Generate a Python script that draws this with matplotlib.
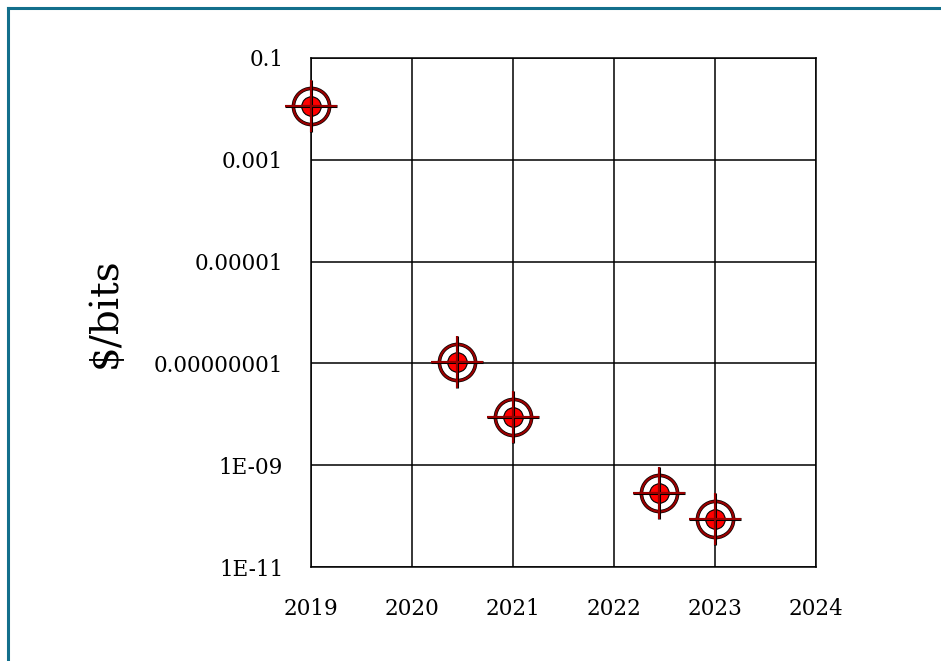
import numpy as np
import matplotlib.pyplot as plt
from matplotlib.lines import Line2D

# cost per bit over time
years = [2019.0, 2020.45, 2021.0, 2022.45, 2023.0]
cost = [1.15e-2, 1.05e-7, 8.7e-9, 2.8e-10, 8.7e-11]

ytick_vals = [1e-1, 1e-3, 1e-5, 1e-7, 1e-9, 1e-11]
ytick_labels = ['0.1', '0.001', '0.00001', '0.00000001', '1E-09', '1E-11']
xtick_vals = [2019, 2020, 2021, 2022, 2023, 2024]
xtick_labels = ['2019', '2020', '2021', '2022', '2023', '2024']

plt.rcParams['font.family'] = ['DejaVu Serif']

fig = plt.figure(figsize=(9.41, 6.61), dpi=100)
ax = fig.add_axes([0.3305, 0.1422, 0.8672 - 0.3305, 0.9123 - 0.1422])

ax.set_yscale('log')
ax.set_xlim(2019, 2024)
ax.set_ylim(1e-11, 1e-1)
ax.set_yticks(ytick_vals)
ax.set_yticklabels(ytick_labels)
ax.set_xticks(xtick_vals)
ax.set_xticklabels(xtick_labels)
ax.minorticks_off()
ax.tick_params(axis='y', length=0, pad=20, labelsize=15.5)
ax.tick_params(axis='x', length=0, pad=22, labelsize=15.5)
ax.grid(True, color='black', linewidth=1.1)
for s in ax.spines.values():
    s.set_linewidth(1.1)
ax.set_axisbelow(True)

ax.set_ylabel('$/bits', fontsize=28, labelpad=22)

dark = '#990000'
# outer ring
ax.plot(years, cost, 'o', ms=26, mfc='none', mec='black', mew=2.6, clip_on=False, zorder=3)
ax.plot(years, cost, 'o', ms=26, mfc='none', mec=dark, mew=1.6, clip_on=False, zorder=4)
# inner dot
ax.plot(years, cost, 'o', ms=14, mfc='#ff0000', mec='black', mew=0.8, clip_on=False, zorder=5)
# crosshair
ax.plot(years, cost, '+', ms=38, mec='black', mew=2.2, clip_on=False, zorder=6)
ax.plot(years, cost, '+', ms=38, mec=dark, mew=1.5, clip_on=False, zorder=7)

# frame along the top and left edge
W, H = 941, 661
fig.add_artist(Line2D([8 / W, 1], [1 - 8 / H, 1 - 8 / H], color='#136f8c', lw=2.2,
                      transform=fig.transFigure))
fig.add_artist(Line2D([8 / W, 8 / W], [0, 1 - 8 / H], color='#136f8c', lw=2.2,
                      transform=fig.transFigure))

fig.savefig('out.png', dpi=100)
